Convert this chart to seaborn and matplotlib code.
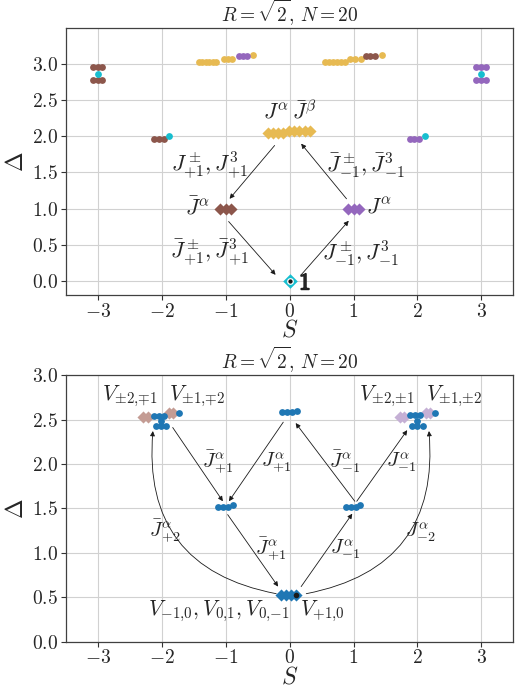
import matplotlib
matplotlib.use("Agg")
import matplotlib.pyplot as plt
import matplotlib.patheffects as pe
import seaborn as sns

# ---- top panel: current multiplets ----
id_S = [0.0]
id_D = [0.0]
jbar_S = [-1.09, -1.0, -0.92]
jbar_D = [1.0, 1.0, 1.0]
j_S = [0.92, 1.0, 1.08]
j_D = [1.0, 1.0, 1.0]
jj_S = [-0.345, -0.26, -0.18, -0.1, -0.015, 0.07, 0.15, 0.235, 0.315]
jj_D = [2.05, 2.05, 2.05, 2.05, 2.07, 2.08, 2.08, 2.08, 2.08]

gold_S = [-1.42, -1.365, -1.31, -1.255, -1.2, -1.145, -1.03, -0.965, -0.90, -0.58,
          0.56, 0.62, 0.68, 0.74, 0.81, 0.87, 0.95, 1.03, 1.11, 1.44]
gold_D = [3.03, 3.03, 3.03, 3.03, 3.03, 3.03, 3.08, 3.08, 3.08, 3.13,
          3.03, 3.03, 3.03, 3.03, 3.03, 3.03, 3.08, 3.08, 3.08, 3.13]
brown_S = [-3.08, -3.005, -2.93, -3.08, -3.005, -2.93, -2.13, -2.05, -1.97, 1.19, 1.265, 1.34]
brown_D = [2.97, 2.97, 2.97, 2.79, 2.79, 2.79, 1.97, 1.97, 1.97, 3.11, 3.11, 3.11]
purple_S = [2.91, 2.99, 3.07, 2.91, 2.99, 3.07, 1.88, 1.95, 2.02, -0.80, -0.735, -0.67]
purple_D = [2.97, 2.97, 2.97, 2.79, 2.79, 2.79, 1.97, 1.97, 1.97, 3.11, 3.11, 3.11]
cyan_S = [-3.0, -1.89, 2.99, 2.12]
cyan_D = [2.86, 2.0, 2.86, 2.0]

# ---- bottom panel: vertex operators ----
v0_S = [-0.135, -0.055, 0.025, 0.105]
v0_D = [0.52, 0.52, 0.52, 0.52]
vplus_S = [0.105]
vplus_D = [0.52]
blue_S = [-1.117, -1.042, -0.967, -0.893, 0.883, 0.958, 1.033, 1.107,
          -0.117, -0.039, 0.039, 0.117,
          -2.13, -2.05, -1.97, -2.09, -2.01, -1.93, -2.01, -1.73,
          1.88, 1.96, 2.04, 1.92, 2.0, 2.08, 1.99, 2.27]
blue_D = [1.52, 1.52, 1.52, 1.54, 1.52, 1.52, 1.52, 1.54,
          2.58, 2.58, 2.58, 2.60,
          2.54, 2.54, 2.54, 2.43, 2.43, 2.43, 2.48, 2.57,
          2.55, 2.55, 2.55, 2.43, 2.43, 2.43, 2.48, 2.57]
pink_S = [-2.30, -2.22, -1.89, -1.82]
pink_D = [2.53, 2.53, 2.57, 2.57]
lav_S = [1.72, 1.79, 2.13, 2.19]
lav_D = [2.53, 2.53, 2.57, 2.57]

sns.set_theme(style="ticks")
plt.rcParams["font.family"] = ["cmr10", "DejaVu Serif"]
plt.rcParams["mathtext.fontset"] = "cm"
plt.rcParams["axes.formatter.use_mathtext"] = True
plt.rcParams["axes.unicode_minus"] = True

fig = plt.figure(figsize=(5.25, 6.92), dpi=100)
ax1 = fig.add_axes([0.1257, 0.5737, 0.852, 0.3853])
ax2 = fig.add_axes([0.1257, 0.0727, 0.852, 0.3853])

title = r"$R = \sqrt{2},\, N = 20$"
for ax in (ax1, ax2):
    ax.grid(True, color="0.82", lw=0.8)
    ax.set_axisbelow(True)
    ax.set_xlim(-3.5, 3.5)
    ax.set_xticks([-3, -2, -1, 0, 1, 2, 3])
    ax.set_yticks([0.0, 0.5, 1.0, 1.5, 2.0, 2.5, 3.0])
    ax.tick_params(labelsize=14, length=3.5, width=0.8, color="0.2", pad=2)
    for sp in ax.spines.values():
        sp.set_color("0.25")
        sp.set_linewidth(0.9)
    ax.set_xlabel(r"$S$", fontsize=17, labelpad=-1)
    ax.set_ylabel(r"$\Delta$", fontsize=17, labelpad=3)
    ax.set_title(title, fontsize=14, pad=0.5)

ax1.set_ylim(-0.2, 3.5)
ax2.set_ylim(0, 3.0)

circ = dict(marker="o", s=24, linewidth=0, legend=False)
dia = dict(marker="D", s=38, linewidth=0, legend=False)

# top panel marks
sns.scatterplot(x=gold_S, y=gold_D, color="#e7ba52", ax=ax1, **circ)
sns.scatterplot(x=brown_S, y=brown_D, color="#8c564b", ax=ax1, **circ)
sns.scatterplot(x=purple_S, y=purple_D, color="#9467bd", ax=ax1, **circ)
sns.scatterplot(x=cyan_S, y=cyan_D, color="#17becf", ax=ax1, **circ)
sns.scatterplot(x=jj_S, y=jj_D, color="#e7ba52", ax=ax1, **dia)
sns.scatterplot(x=jbar_S, y=jbar_D, color="#8c564b", ax=ax1, **dia)
sns.scatterplot(x=j_S, y=j_D, color="#9467bd", ax=ax1, **dia)
sns.scatterplot(x=id_S, y=id_D, color="#17becf", ax=ax1, marker="D", s=55, linewidth=0, legend=False)
sns.scatterplot(x=id_S, y=id_D, color="k", ax=ax1, marker="o", s=16, edgecolor="w", linewidth=0.9, legend=False)

# bottom panel marks
sns.scatterplot(x=pink_S, y=pink_D, color="#c49c94", ax=ax2, **dia)
sns.scatterplot(x=lav_S, y=lav_D, color="#c5b0d5", ax=ax2, **dia)
sns.scatterplot(x=blue_S, y=blue_D, color="#1f77b4", ax=ax2, **circ)
sns.scatterplot(x=v0_S, y=v0_D, color="#1f77b4", ax=ax2, **dia)
sns.scatterplot(x=vplus_S, y=vplus_D, color="k", ax=ax2, marker="o", s=16, linewidth=0, legend=False)


def arrow(ax, start, end, rad=0.0):
    ax.annotate("", xy=end, xytext=start,
                arrowprops=dict(arrowstyle="-|>", lw=0.6, color="k", mutation_scale=7,
                                shrinkA=0, shrinkB=0,
                                connectionstyle=f"arc3,rad={rad}"))


# top arrows and labels
arrow(ax1, (-0.235, 1.875), (-0.94, 1.135))
arrow(ax1, (0.89, 1.135), (0.18, 1.9))
arrow(ax1, (-0.955, 0.82), (-0.22, 0.08))
arrow(ax1, (0.18, 0.08), (0.925, 0.83))

tk = dict(ha="center", va="center", fontsize=16)
ax1.text(0.0, 2.36, r"$J^\alpha\,\bar J^\beta$", **tk)
ax1.text(-1.25, 1.6, r"$J^\pm_{+1}, J^3_{+1}$", **tk)
ax1.text(1.18, 1.6, r"$\bar J^\pm_{-1}, \bar J^3_{-1}$", **tk)
ax1.text(-1.44, 1.02, r"$\bar J^\alpha$", **tk)
ax1.text(1.40, 1.02, r"$J^\alpha$", **tk)
ax1.text(-1.25, 0.39, r"$\bar J^\pm_{+1}, \bar J^3_{+1}$", **tk)
ax1.text(1.10, 0.38, r"$J^\pm_{-1}, J^3_{-1}$", **tk)
ax1.text(0.24, -0.04, r"$\mathbf{1}$", ha="center", va="center", fontsize=17,
         path_effects=[pe.withStroke(linewidth=1.1, foreground="k")])

# bottom arrows and labels
arrow(ax2, (-0.1, 2.47), (-0.95, 1.58))
arrow(ax2, (-1.83, 2.41), (-1.045, 1.58))
arrow(ax2, (1.02, 1.58), (0.094, 2.46))
arrow(ax2, (1.05, 1.58), (1.84, 2.38))
arrow(ax2, (-0.97, 1.43), (-0.18, 0.62))
arrow(ax2, (0.18, 0.62), (0.98, 1.44))
arrow(ax2, (-0.21, 0.54), (-2.14, 2.37), rad=-0.45)
arrow(ax2, (0.26, 0.54), (2.18, 2.37), rad=0.45)

vk = dict(ha="center", va="center", fontsize=15.5)
jk = dict(ha="center", va="center", fontsize=14.5)
ax2.text(-2.5, 2.76, r"$V_{{\pm}2{,}{\mp}1}$", **vk)
ax2.text(-1.44, 2.76, r"$V_{{\pm}1{,}{\mp}2}$", **vk)
ax2.text(1.53, 2.76, r"$V_{{\pm}2{,}{\pm}1}$", **vk)
ax2.text(2.58, 2.76, r"$V_{{\pm}1{,}{\pm}2}$", **vk)
ax2.text(-1.13, 2.02, r"$\bar J^\alpha_{+1}$", **jk)
ax2.text(-0.21, 2.02, r"$J^\alpha_{+1}$", **jk)
ax2.text(0.865, 2.02, r"$\bar J^\alpha_{-1}$", **jk)
ax2.text(1.74, 2.02, r"$J^\alpha_{-1}$", **jk)
ax2.text(-1.95, 1.25, r"$\bar J^\alpha_{+2}$", **jk)
ax2.text(2.04, 1.23, r"$J^\alpha_{-2}$", **jk)
ax2.text(-0.29, 1.04, r"$\bar J^\alpha_{+1}$", **jk)
ax2.text(0.865, 1.04, r"$J^\alpha_{-1}$", **jk)
ax2.text(-1.11, 0.345, r"$V_{{-}1{,}0}, V_{0{,}1}, V_{0{,}{-}1}$", **vk)
ax2.text(0.51, 0.345, r"$V_{+1{,}0}$", **vk)

fig.savefig("out.png", dpi=100)
